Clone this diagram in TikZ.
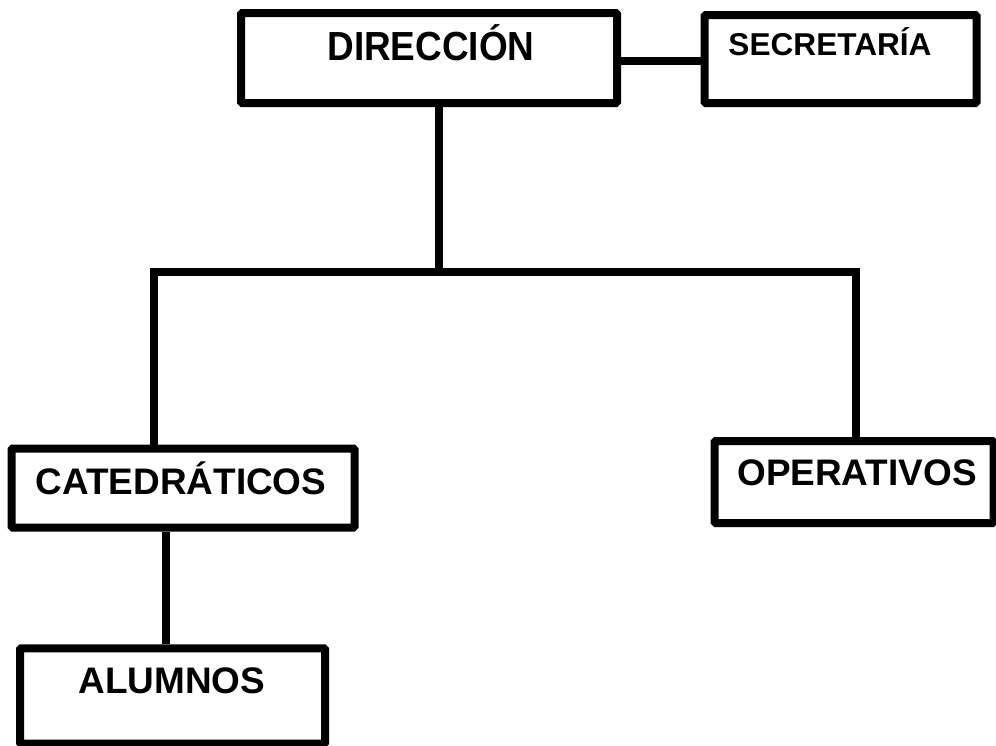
\documentclass[tikz,border=0pt]{standalone}
\usepackage{fontspec}
\setmainfont{Liberation Sans}
\usetikzlibrary{positioning}

\tikzset{
  orgbox/.style={draw, line width=6pt, rounded corners=1pt, inner sep=0pt},
  link/.style={line width=6pt},
  lbl/.style={anchor=base, inner sep=0pt, font=\bfseries\fontsize{27.7pt}{30pt}\selectfont},
  smalllbl/.style={lbl, font=\bfseries\fontsize{23.7pt}{26pt}\selectfont}
}

\begin{document}
\begin{tikzpicture}[x=0.75pt, y=-0.75pt]

        \useasboundingbox (0,0) rectangle (996,746);

        % boxes
        \node[orgbox, minimum width=282pt,    minimum height=67.5pt] (dir) at (429,58)    {};
        \node[orgbox, minimum width=204pt,    minimum height=66pt]   (sec) at (840.5,59)  {};
        \node[orgbox, minimum width=257.25pt, minimum height=59.25pt] (cat) at (183,488)  {};
        \node[orgbox, minimum width=209.25pt, minimum height=61.5pt] (ope) at (854,482)   {};
        \node[orgbox, minimum width=228.75pt, minimum height=71.6pt] (alu) at (172.5,696) {};

        % texts
        \node[lbl, yscale=1.1] (dirtxt) at (431,60)  {DIRECCIÓN};
        \node[smalllbl]        (sectxt) at (830,55)  {SECRETARÍA};
        \node[lbl]             (cattxt) at (181,494) {CATEDRÁTICOS};
        \node[lbl]             (opetxt) at (857,485) {OPERATIVOS};
        \node[lbl]             (alutxt) at (172,693) {ALUMNOS};

        % connectors
        \coordinate (jl) at (154,272);
        \coordinate (jr) at (855.5,272);

        \draw[link] ([yshift=-1.9pt]dir.east) -- ([yshift=-1.9pt]dir.east -| sec.west);
        \draw[link] ([xshift=7.5pt]dir.south) -- ([xshift=7.5pt]dir.south |- jl);
        \draw[link] (jl |- cat.north) -- (jl) -- (jr) -- (jr |- ope.north);
        \draw[link] ([xshift=-13.1pt]cat.south) -- ([xshift=-13.1pt]cat.south |- alu.north);

    \end{tikzpicture}
\end{document}
